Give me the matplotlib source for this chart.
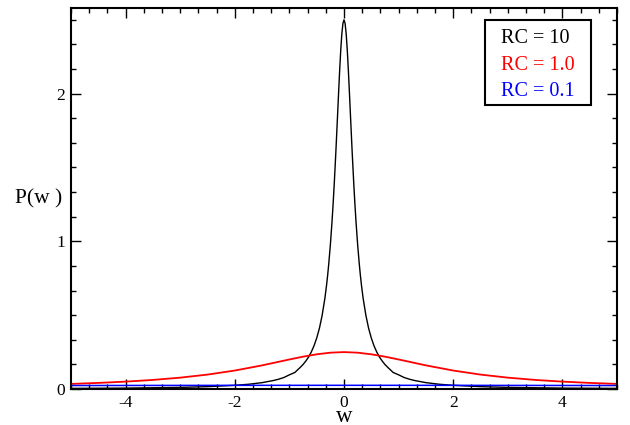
import matplotlib
matplotlib.use("Agg")
import matplotlib.pyplot as plt
from matplotlib.ticker import MultipleLocator
from matplotlib.patches import Rectangle

plt.rcParams['font.family'] = ['Liberation Serif', 'DejaVu Serif']
plt.rcParams['axes.unicode_minus'] = False

# RC = 10
w_10 = [-5.0, -4.0, -3.0, -2.5, -2.0, -1.75, -1.5, -1.3, -1.2, -1.1, -1.0,
        -0.9, -0.8, -0.75, -0.7, -0.65, -0.6, -0.55, -0.5, -0.45, -0.4, -0.35,
        -0.32, -0.3, -0.28, -0.25, -0.22, -0.2, -0.18, -0.15, -0.12, -0.1,
        -0.08, -0.06, -0.04, -0.02, 0.0, 0.02, 0.04, 0.06, 0.08, 0.1, 0.12,
        0.15, 0.18, 0.2, 0.22, 0.25, 0.28, 0.3, 0.32, 0.35, 0.4, 0.45, 0.5,
        0.55, 0.6, 0.65, 0.7, 0.75, 0.8, 0.9, 1.0, 1.1, 1.2, 1.3, 1.5, 1.75,
        2.0, 2.5, 3.0, 4.0, 5.0]
p_10 = [0.004, 0.006, 0.011, 0.016, 0.025, 0.032, 0.043, 0.057, 0.066, 0.078,
        0.096, 0.112, 0.147, 0.166, 0.189, 0.216, 0.25, 0.292, 0.345, 0.412,
        0.5, 0.615, 0.702, 0.769, 0.845, 0.976, 1.131, 1.25, 1.381, 1.6, 1.838,
        2.0, 2.155, 2.294, 2.404, 2.475, 2.5, 2.475, 2.404, 2.294, 2.155, 2.0,
        1.838, 1.6, 1.381, 1.25, 1.131, 0.976, 0.845, 0.769, 0.702, 0.615, 0.5,
        0.412, 0.345, 0.292, 0.25, 0.216, 0.189, 0.166, 0.147, 0.112, 0.096,
        0.078, 0.066, 0.057, 0.043, 0.032, 0.025, 0.016, 0.011, 0.006, 0.004]

# RC = 1.0
w_1 = [-5.0, -4.5, -4.0, -3.5, -3.0, -2.5, -2.0, -1.5, -1.0, -0.75, -0.5,
       -0.25, 0.0, 0.25, 0.5, 0.75, 1.0, 1.5, 2.0, 2.5, 3.0, 3.5, 4.0, 4.5, 5.0]
p_1 = [0.0345, 0.0412, 0.05, 0.0615, 0.0769, 0.0976, 0.125, 0.16, 0.2, 0.219,
       0.235, 0.246, 0.25, 0.246, 0.235, 0.219, 0.2, 0.16, 0.125, 0.0976,
       0.0769, 0.0615, 0.05, 0.0412, 0.0345]

# RC = 0.1
w_01 = [-5.0, -4.0, -3.0, -2.0, -1.0, 0.0, 1.0, 2.0, 3.0, 4.0, 5.0]
p_01 = [0.0235, 0.0240, 0.0244, 0.0248, 0.0249, 0.025, 0.0249, 0.0248,
        0.0244, 0.0240, 0.0235]

labels = ["RC = 10", "RC = 1.0", "RC = 0.1"]
colors = ["black", "red", "blue"]

fig = plt.figure(figsize=(6.3, 4.25), dpi=100)
ax = fig.add_axes([0.1127, 0.0847, 0.8667, 0.8965])

ax.plot(w_10, p_10, color=colors[0], lw=1.0)
ax.plot(w_1, p_1, color=colors[1], lw=1.3)
ax.plot(w_01, p_01, color=colors[2], lw=1.1)

ax.set_xlim(-5, 5)
ax.set_ylim(0, 2.58)
ax.xaxis.set_major_locator(MultipleLocator(2))
ax.xaxis.set_minor_locator(MultipleLocator(1 / 3))
ax.yaxis.set_major_locator(MultipleLocator(1))
ax.yaxis.set_minor_locator(MultipleLocator(1 / 6))
ax.tick_params(which='both', direction='in', top=True, right=True, width=1.0,
               labelsize=12.5)
ax.tick_params(which='major', length=7.5, pad=4)
ax.tick_params(which='minor', length=3.8)
for s in ax.spines.values():
    s.set_linewidth(1.5)

# axis labels
ax.text(0.5, -0.087, "w", transform=ax.transAxes, fontsize=16.5,
        ha='center', va='baseline')
ax.text(-0.059, 0.5, "P(w )", transform=ax.transAxes, fontsize=15.5,
        ha='center', va='center')

# legend box with coloured text only
ax.add_patch(Rectangle((0.758, 0.7467), 0.1945, 0.2205, transform=ax.transAxes,
                       facecolor='white', edgecolor='black', lw=1.5, zorder=5))
for i, (lab, c) in enumerate(zip(labels, colors)):
    ax.text(0.787, 0.907 - i * 0.0685, lab, color=c, fontsize=14.5,
            transform=ax.transAxes, ha='left', va='baseline', zorder=6)

fig.savefig("out.png", dpi=100)
